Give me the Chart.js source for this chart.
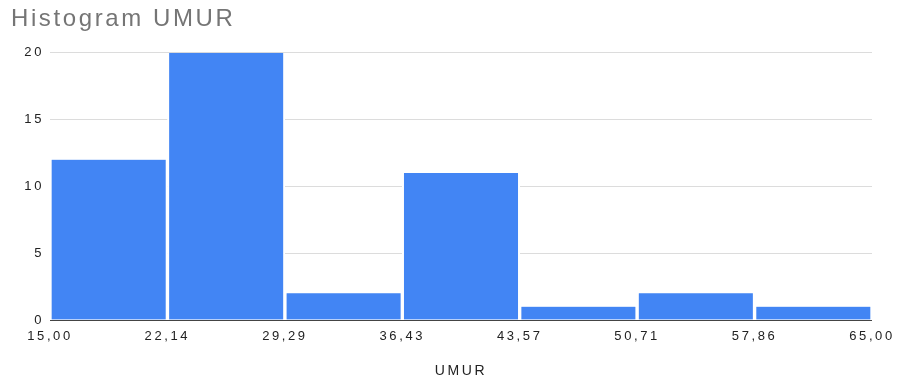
<!DOCTYPE html>
<html lang="id">
<head>
  <meta charset="UTF-8" />
  <title>Histogram UMUR</title>
  <script src="https://cdn.jsdelivr.net/npm/chart.js"></script>
  <style>
    body { margin: 0; background: #fff; }
    .wrap { width: 898px; height: 380px; }
  </style>
</head>
<body>
  <div class="wrap"><canvas id="grafik"></canvas></div>
<script>
  // batas kelas (bin) dan frekuensinya
  const binEdges = [15.00, 22.14, 29.29, 36.43, 43.57, 50.71, 57.86, 65.00];
  const edgeLabels = ['15,00', '22,14', '29,29', '36,43', '43,57', '50,71', '57,86', '65,00'];
  const counts = [12, 20, 2, 11, 1, 2, 1];
  const yTicks = [0, 5, 10, 15, 20];

  // titik tengah tiap bin untuk batang
  const points = counts.map((c, i) => ({ x: (binEdges[i] + binEdges[i + 1]) / 2, y: c }));

  const fontFam = 'Arial, "Liberation Sans", sans-serif';

  // teks di referensi agak renggang
  const spasiHuruf = {
    id: 'spasiHuruf',
    beforeUpdate(chart) { chart.ctx.letterSpacing = '2.6px'; },
    beforeLayout(chart) { chart.ctx.letterSpacing = '2.6px'; },
    beforeDraw(chart) { chart.ctx.letterSpacing = '2.6px'; }
  };

  const ctx = document.getElementById('grafik').getContext('2d');
  new Chart(ctx, {
    type: 'bar',
    plugins: [spasiHuruf],
    data: {
      datasets: [{
        label: 'UMUR',
        data: points,
        backgroundColor: '#4285f4',
        borderColor: '#ffffff',
        borderWidth: { left: 2, right: 2, top: 0, bottom: 0 },
        borderRadius: { topLeft: 2, topRight: 2, bottomLeft: 0, bottomRight: 0 },
        borderSkipped: false,
        barPercentage: 1,
        categoryPercentage: 1
      }]
    },
    options: {
      responsive: true,
      maintainAspectRatio: false,
      animation: false,
      layout: { padding: { left: 11, right: 26, top: 0, bottom: 0 } },
      plugins: {
        legend: { display: false },
        tooltip: { enabled: false },
        title: {
          display: true,
          text: 'Histogram UMUR',
          align: 'start',
          color: '#757575',
          font: { family: fontFam, size: 24, weight: 'normal' },
          padding: { top: 5, bottom: 19 }
        }
      },
      scales: {
        x: {
          type: 'linear',
          min: binEdges[0],
          max: binEdges[binEdges.length - 1],
          offset: false,
          grid: { display: false, drawTicks: false },
          border: { display: false },
          afterBuildTicks: (scale) => { scale.ticks = binEdges.map(v => ({ value: v })); },
          afterFit: (scale) => {
            scale.height = 60;
            scale.paddingLeft = 0;
            scale.paddingRight = 0;
          },
          ticks: {
            autoSkip: false,
            maxRotation: 0,
            padding: 9,
            color: '#222222',
            font: { family: fontFam, size: 13 },
            callback: (v, i) => edgeLabels[i]
          },
          title: {
            display: true,
            text: 'UMUR',
            color: '#222222',
            font: { family: fontFam, size: 14 },
            padding: { top: 0, bottom: 0 }
          }
        },
        y: {
          min: 0,
          max: 20,
          afterBuildTicks: (scale) => { scale.ticks = yTicks.map(v => ({ value: v })); },
          afterFit: (scale) => { scale.width = 39; },
          border: { display: false },
          grid: {
            drawTicks: false,
            color: (c) => c.tick && c.tick.value === 0 ? '#444444' : '#dcdcdc',
            lineWidth: 1
          },
          ticks: {
            padding: 6,
            color: '#222222',
            font: { family: fontFam, size: 13 }
          }
        }
      }
    }
  });
</script>
</body>
</html>
